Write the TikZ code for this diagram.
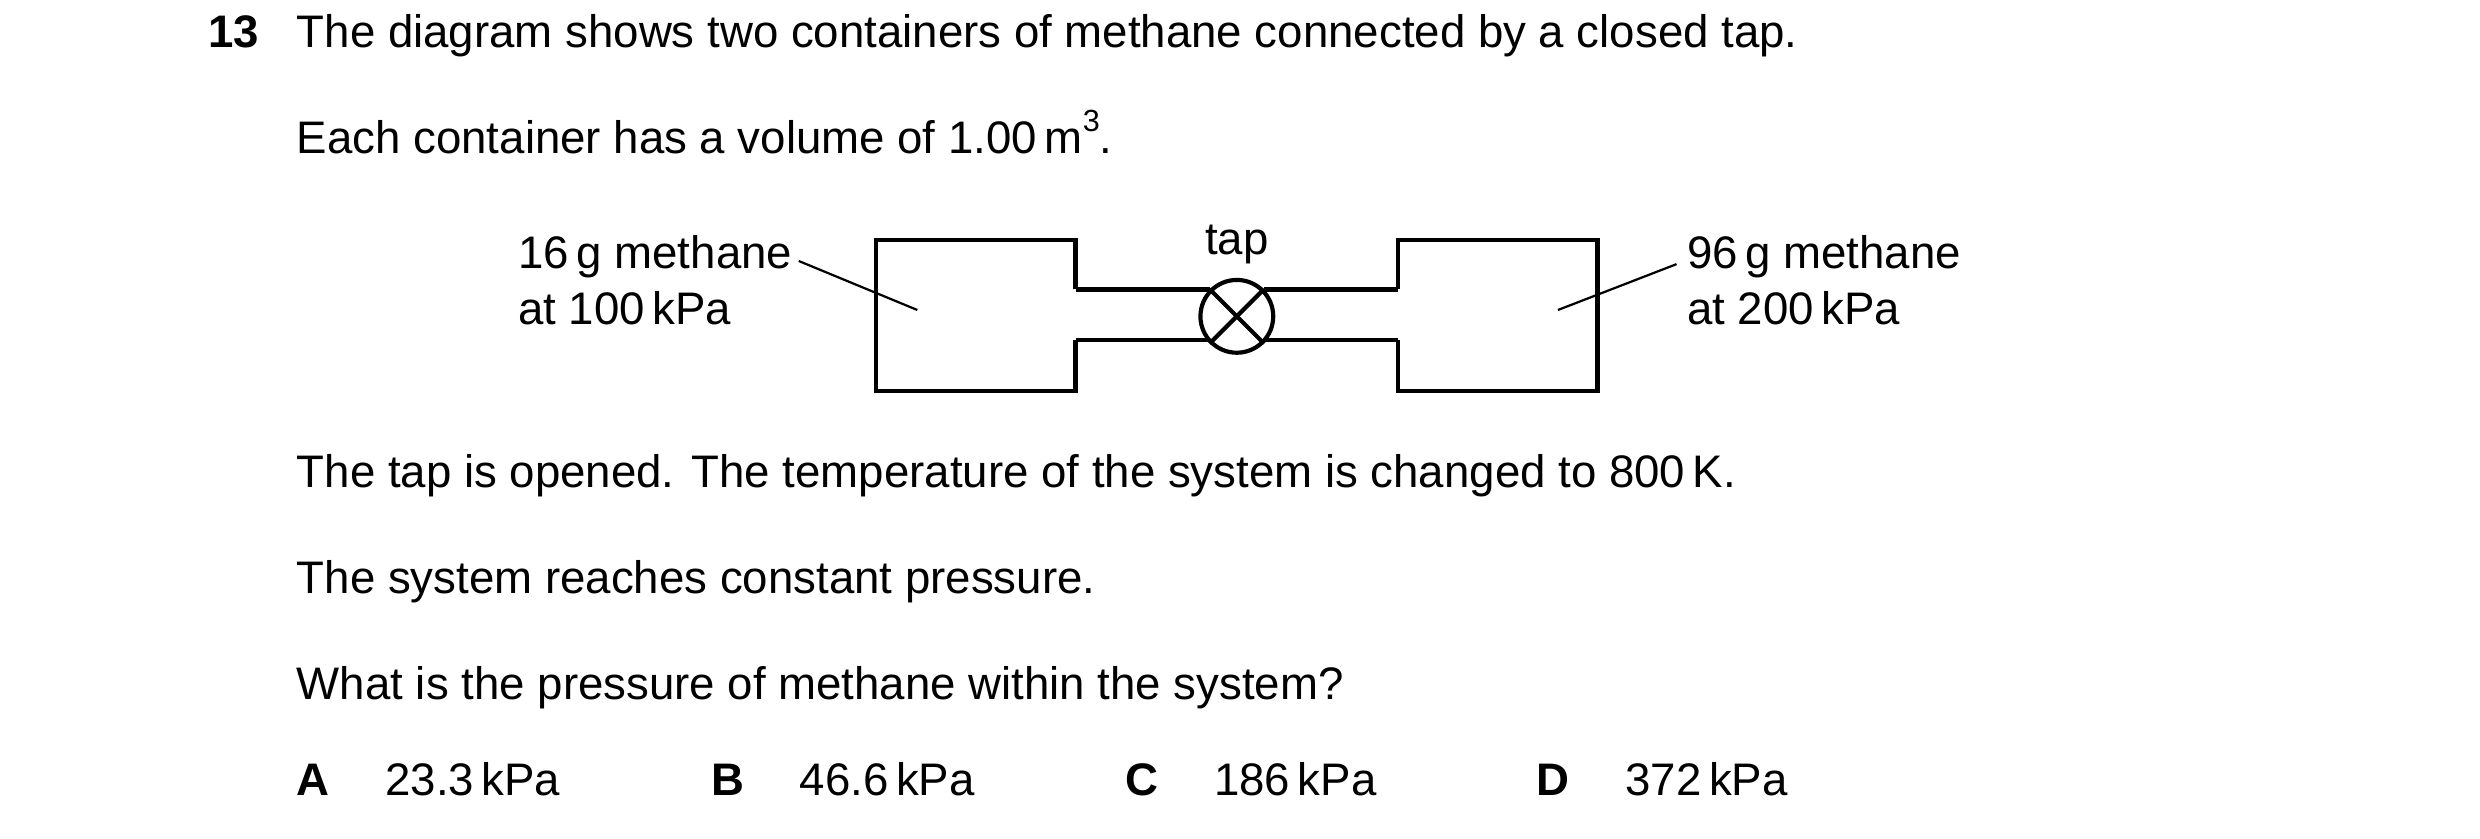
\documentclass[tikz,border=0pt]{standalone}
\usepackage{fontspec}
\setmainfont{Liberation Sans}
\usetikzlibrary{positioning}

\begin{document}
\begin{tikzpicture}[x=0.01cm,y=-0.01cm,
  txt/.style={anchor=base west, inner sep=0pt, font=\fontsize{8.2}{10}\selectfont},
  vessel/.style={line width=0.75pt}]
\useasboundingbox (0,0) rectangle (1568,530);

% question text
\node[txt, font=\fontsize{8.2}{10}\selectfont\bfseries] (num) at (131,30) {13};
\node[txt] (q1) at (187,30) {The diagram shows two containers of methane connected by a closed tap.};
\node[txt] (q2) at (187,97) {Each container has a volume of 1.00\,m\raisebox{0.9ex}{\fontsize{5.5}{6}\selectfont 3}.};

% containers
\draw[vessel] (680,183) -- (680,152) -- (554,152) -- (554,247) -- (680,247) -- (680,215);
\draw[vessel] (884,183) -- (884,152) -- (1010,152) -- (1010,247) -- (884,247) -- (884,215);
\node[draw, circle, vessel, minimum size=0.46cm, inner sep=0pt] (tap) at (782,200) {};
\draw[vessel] (tap.45) -- (tap.225);
\draw[vessel] (tap.135) -- (tap.315);
\draw[vessel] (680,183) -- (tap.north west |- 0,183);
\draw[vessel] (680,215) -- (tap.south west |- 0,215);
\draw[vessel] (tap.north east |- 0,183) -- (884,183);
\draw[vessel] (tap.south east |- 0,215) -- (884,215);
\node[txt, anchor=base] (taplbl) at (782,161) {tap};

% labels
\node[txt] (left1) at (327,170) {16\,g methane};
\node[txt] (left2) at (327,205) {at 100\,kPa};
\node[txt] (right1) at (1066,170) {96\,g methane};
\node[txt] (right2) at (1066,205) {at 200\,kPa};
\coordinate (lin) at (580,196);
\coordinate (rin) at (985,196);
\draw[line width=0.4pt] (505,165) -- (lin);
\draw[line width=0.4pt] (1060,167) -- (rin);

\node[txt] (q3) at (187,308) {The tap is opened. The temperature of the system is changed to 800\,K.};
\node[txt] (q4) at (187,375) {The system reaches constant pressure.};
\node[txt] (q5) at (187,442) {What is the pressure of methane within the system?};

% options
\foreach \l/\xl/\v in {A/187/23.3, B/449/46.6, C/711/186, D/971/372}{
  \node[txt, font=\fontsize{8.2}{10}\selectfont\bfseries] (opt\l) at (\xl,503) {\l};
  \node[txt] (val\l) at (\xl+56,503) {\v\,kPa};
}
\end{tikzpicture}
\end{document}
